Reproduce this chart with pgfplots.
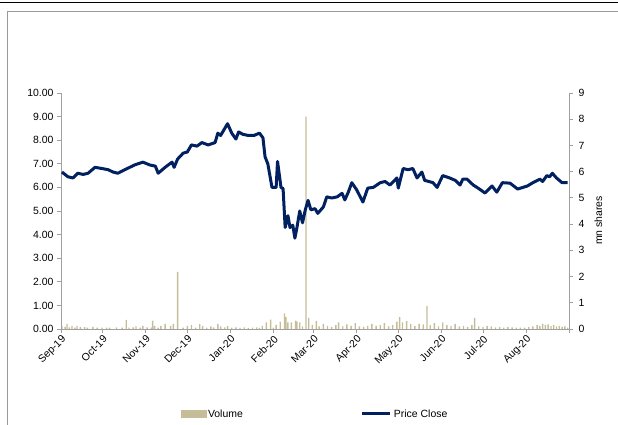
\documentclass[border=0pt]{standalone}
\usepackage{fontspec}
\setmainfont{Liberation Sans}
\usepackage{pgfplots}
\usepackage{pgfplotstable}
\pgfplotsset{compat=1.18}
\definecolor{navy}{RGB}{0,32,96}
\definecolor{volc}{RGB}{196,189,151}
\definecolor{axgray}{RGB}{160,160,160}

\pgfplotstableread{
day price
0.7 6.65
5 6.45
8.6 6.40
12 6.60
16 6.55
19.5 6.60
24.5 6.85
29.5 6.80
34 6.75
37.5 6.65
41 6.60
46 6.75
53 6.95
59 7.07
64 6.95
68 6.90
70 6.60
75 6.85
80 7.07
81.5 6.85
84 7.20
88 7.45
91 7.50
94 7.80
98 7.75
101.5 7.90
106 7.80
111 7.90
113 8.30
115 8.20
117 8.40
120 8.70
123 8.30
126 8.05
128 8.35
131 8.25
135 8.20
139 8.20
143 8.30
145.5 8.10
147 7.30
149 7.00
152 6.00
155 6.00
156 7.10
158.5 6.00
160 5.95
161.5 4.30
163.5 4.80
165 4.30
167 4.40
168.5 3.85
170 4.30
172 5.00
174 4.50
176 5.05
178 5.45
180 5.05
183 5.10
185 4.90
189 5.17
191.5 5.60
195 5.55
199 5.60
202.5 5.75
204.5 5.47
207 5.80
209.5 6.20
213 5.90
217.5 5.38
221 5.97
225 6.00
230 6.20
233.5 6.25
237 6.10
242 6.40
243 5.97
246.5 6.80
250 6.75
253.5 6.80
256.5 6.40
260 6.65
262 6.30
265 6.25
268 6.20
271 6.00
275 6.50
280 6.40
284 6.30
287.5 6.10
289.5 6.35
292.5 6.35
297 6.10
301 5.95
305.5 5.76
310.5 6.06
314 5.80
318 6.20
323.5 6.18
329 5.93
336 6.06
340 6.20
345 6.35
347 6.25
350 6.50
352 6.45
354 6.60
357 6.40
361 6.20
365 6.20
}\pricedata

\pgfplotstableread{
day vol
0.7 0.10
3 0.08
4.3 0.20
6 0.06
7.9 0.12
10 0.05
11.5 0.12
14 0.07
17 0.07
19 0.05
23 0.08
26 0.05
29.5 0.05
33 0.05
35 0.05
40 0.06
44 0.05
47 0.35
49 0.05
52 0.06
54 0.10
57 0.05
59 0.12
62 0.06
65 0.05
66 0.32
67.5 0.12
70 0.05
72 0.12
75 0.20
79 0.12
81 0.20
84 2.18
88 0.05
91 0.12
94 0.16
97 0.05
100 0.19
102 0.12
105 0.05
108 0.10
110 0.06
113 0.20
115 0.10
118 0.06
120 0.11
123 0.05
126 0.06
129 0.04
132 0.06
135 0.04
138 0.05
141 0.06
143 0.04
145 0.12
148 0.25
151 0.36
153 0.05
155 0.16
158 0.28
161 0.60
162 0.45
163.5 0.25
166 0.25
169 0.32
170 0.28
172 0.25
174 0.10
176.5 8.10
178.5 0.42
181 0.16
184 0.30
186 0.10
189 0.20
192 0.12
195 0.08
198 0.15
200 0.25
203 0.10
206 0.18
209 0.12
212 0.22
215 0.10
218 0.08
221 0.12
224 0.20
227 0.12
230 0.15
233 0.22
236 0.10
239 0.15
242 0.28
244 0.45
246 0.25
249 0.30
252 0.20
255 0.12
258 0.20
261 0.18
263.7 0.88
266 0.15
269 0.22
272 0.10
275 0.25
278 0.15
281 0.12
284 0.20
287 0.10
290 0.12
293 0.08
296 0.15
298 0.42
301 0.10
304 0.08
307 0.12
310 0.10
313 0.06
316 0.08
319 0.05
322 0.08
325 0.06
328 0.05
331 0.05
334 0.05
337 0.08
340 0.10
343 0.15
345 0.12
347 0.20
349 0.15
351 0.18
353 0.12
355 0.15
357 0.10
359 0.12
361 0.08
363 0.10
365 0.05
}\voldata

\begin{document}
\begin{tikzpicture}
\useasboundingbox (0bp,0bp) rectangle (618bp,425bp);
\draw[black, line width=1bp] (0bp,422bp) -- (618bp,422bp);
\draw[black!40, line width=1bp] (7bp,0bp) -- (7bp,413bp) -- (618bp,413bp);
\pgfplotsset{
  common/.style={
    at={(61bp,96bp)}, anchor=south west,
    width=508bp, height=236bp, scale only axis,
    xmin=0, xmax=366,
    axis line style={axgray, line width=0.9bp},
    tick style={axgray, line width=0.9bp},
    major tick length=4bp, tick align=outside,
    ticklabel style={font=\fontsize{10.5}{12}\selectfont},
    /pgf/number format/assume math mode=true,
    clip=false,
  }
}
\begin{axis}[common,
  axis x line*=bottom, axis y line*=right,
  ymin=0, ymax=9, ytick={0,1,...,9},
  xtick={0,30,61,91,122,153,182,213,243,274,304,335,366},
  xticklabels={Sep-19,Oct-19,Nov-19,Dec-19,Jan-20,Feb-20,Mar-20,Apr-20,May-20,Jun-20,Jul-20,Aug-20,},
  xticklabel style={rotate=45, anchor=north east, inner sep=1bp},
  yticklabel style={anchor=west, xshift=2bp},
  ylabel={mn shares},
  ylabel style={font=\fontsize{10.5}{12}\selectfont, at={(axis description cs:1.058,0.46)}, anchor=center, rotate=0},
]
\addplot[ybar, bar width=1, fill=volc, draw=none] table[x=day, y=vol] {\voldata};
\end{axis}
\begin{axis}[common,
  axis x line=none, axis y line*=left,
  ymin=0, ymax=10, ytick={0,1,...,10},
  yticklabel style={/pgf/number format/.cd, fixed, fixed zerofill, precision=2},
  legend style={at={(0.5,-0.36)}, anchor=center, draw=none, fill=none,
    font=\fontsize{10.5}{12}\selectfont, legend columns=2,
    /tikz/every even column/.append style={column sep=116bp}},
  legend cell align=left,
]
\addlegendimage{legend image code/.code={\fill[volc] (0bp,-3.5bp) rectangle (25bp,3.5bp);}}
\addlegendentry{Volume}
\addplot[navy, line width=3bp, line join=round,
  legend image code/.code={\draw[navy, line width=3bp] (0bp,0bp) -- (28bp,0bp);}]
  table[x=day, y=price] {\pricedata};
\addlegendentry{Price Close}
\end{axis}
\end{tikzpicture}
\end{document}
